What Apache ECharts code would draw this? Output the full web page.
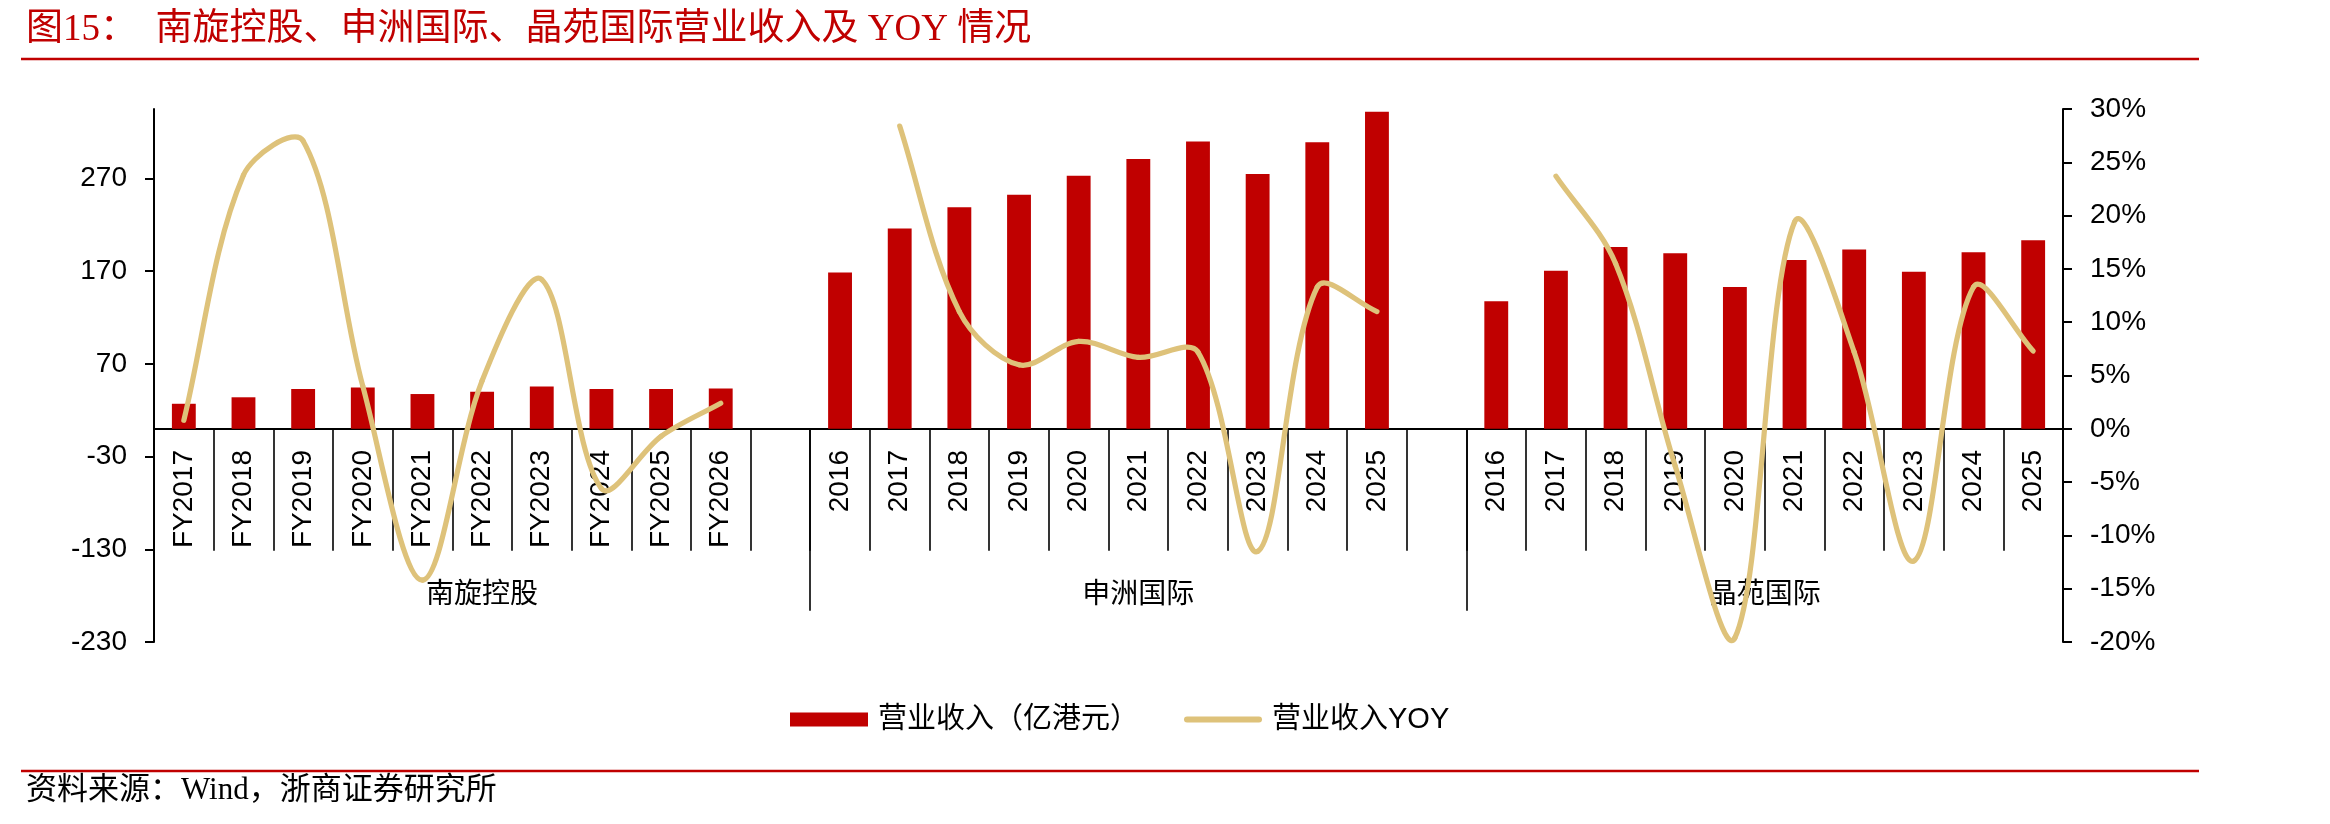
<!DOCTYPE html>
<html>
<head>
<meta charset="utf-8">
<script src="https://cdn.jsdelivr.net/npm/echarts@6/dist/echarts.min.js"></script>
<style>
  html, body { margin: 0; padding: 0; background: #fff; }
  #chart { width: 2330px; height: 824px; }
</style>
</head>
<body>
<div id="chart"></div>
<script>
// 南旋控股
const nanxuanYears = ['FY2017', 'FY2018', 'FY2019', 'FY2020', 'FY2021', 'FY2022', 'FY2023', 'FY2024', 'FY2025', 'FY2026'];
const nanxuanRevenue = [27, 34, 43, 44.5, 37.5, 40, 45.5, 43, 43, 43.5];
const nanxuanYoy = [0.8, 23.8, 27, 4, -14.2, 4.5, 14, -5.6, -0.7, 2.4];

// 申洲国际
const shenzhouYears = ['2016', '2017', '2018', '2019', '2020', '2021', '2022', '2023', '2024', '2025'];
const shenzhouRevenue = [168.5, 216, 239, 252.5, 273, 291, 310, 275, 309, 342];
const shenzhouYoy = [null, 28.4, 11, 6, 8.2, 6.7, 7.2, -11.5, 13.3, 11];

// 晶苑国际
const jingyuanYears = ['2016', '2017', '2018', '2019', '2020', '2021', '2022', '2023', '2024', '2025'];
const jingyuanRevenue = [137.5, 170.5, 196, 189.5, 153, 182, 193.5, 169.5, 190.5, 203.5];
const jingyuanYoy = [null, 23.7, 15.5, -3.5, -19.6, 19.4, 7.2, -12.4, 13.3, 7.3];

const groupNames = ['南旋控股', '申洲国际', '晶苑国际'];
const leftTicks = [-230, -130, -30, 70, 170, 270];

// 组与组之间空一格
const categories = [...nanxuanYears, '', ...shenzhouYears, '', ...jingyuanYears];
const revenue = [...nanxuanRevenue, null, ...shenzhouRevenue, null, ...jingyuanRevenue];
const yoy = [...nanxuanYoy, null, ...shenzhouYoy, null, ...jingyuanYoy];

// 组边界和组中心（以格为单位）
const groupSizes = [nanxuanYears.length + 1, shenzhouYears.length + 1, jingyuanYears.length];
const groupEdges = [];
const groupCenters = [];
let acc = 0;
groupSizes.forEach(function (n) {
  groupCenters.push(acc + n / 2);
  acc += n;
  groupEdges.push(acc);
});

const latin = '"Liberation Sans", Arial, "Noto Sans CJK SC"';
const cjk = '"Noto Sans CJK SC", "Liberation Sans"';
const red = '#C00000';
const gold = '#DEC27A';
const smoothK = 1 / 3;

function dist(a, b) {
  return Math.sqrt((a[0] - b[0]) * (a[0] - b[0]) + (a[1] - b[1]) * (a[1] - b[1]));
}

// 平滑线：按相邻段长度加权的 Catmull-Rom 控制点，不做截断（允许像 Excel 一样略微冲过数据点）
function renderYoySegment(params, api) {
  const i = params.dataIndex;
  const cur = yoy[i];
  const next = yoy[i + 1];
  if (cur == null || next == null) return;
  const prevIdx = yoy[i - 1] != null ? i - 1 : i;
  const afterIdx = yoy[i + 2] != null ? i + 2 : i + 1;
  const p0 = api.coord([prevIdx, yoy[prevIdx]]);
  const p1 = api.coord([i, cur]);
  const p2 = api.coord([i + 1, next]);
  const p3 = api.coord([afterIdx, yoy[afterIdx]]);
  const l01 = dist(p0, p1), l12 = dist(p1, p2), l23 = dist(p2, p3);
  const r1 = l12 / (l01 + l12 || 1);
  const r2 = l12 / (l12 + l23 || 1);
  return {
    type: 'bezierCurve',
    shape: {
      x1: p1[0], y1: p1[1],
      x2: p2[0], y2: p2[1],
      cpx1: p1[0] + (p2[0] - p0[0]) * smoothK * r1,
      cpy1: p1[1] + (p2[1] - p0[1]) * smoothK * r1,
      cpx2: p2[0] - (p3[0] - p1[0]) * smoothK * r2,
      cpy2: p2[1] - (p3[1] - p1[1]) * smoothK * r2
    },
    style: { stroke: gold, fill: null, lineWidth: 5.2, lineCap: 'round' }
  };
}

const myChart = echarts.init(document.getElementById('chart'));

const option = {
  animation: false,
  backgroundColor: '#fff',
  title: [
    {
      text: '图15：  南旋控股、申洲国际、晶苑国际营业收入及 YOY 情况',
      left: 21,
      top: 7,
      textStyle: { color: red, fontSize: 37, fontWeight: 'normal', fontFamily: '"Liberation Serif", "Noto Sans CJK SC"' }
    },
    {
      text: '资料来源：Wind，浙商证券研究所',
      left: 21,
      top: 770,
      textStyle: { color: '#000', fontSize: 31, fontWeight: 'normal', fontFamily: '"Liberation Serif", "Noto Sans CJK SC"' }
    }
  ],
  graphic: [
    { type: 'line', shape: { x1: 21, y1: 59, x2: 2199, y2: 59 }, style: { stroke: red, lineWidth: 2.5 } },
    { type: 'line', shape: { x1: 21, y1: 771, x2: 2199, y2: 771 }, style: { stroke: red, lineWidth: 2.5 } }
  ],
  legend: {
    left: 785,
    top: 700,
    itemWidth: 78,
    itemHeight: 14,
    itemGap: 45,
    textStyle: { fontSize: 29, color: '#000', fontFamily: '"Liberation Sans", "Noto Sans CJK SC"', padding: [0, 0, 0, 5] },
    data: [
      { name: '营业收入（亿港元）', icon: 'rect' },
      { name: '营业收入YOY', icon: 'path://M3,0h72a3,3 0 0 1 0,6h-72a3,3 0 0 1 0,-6z' }
    ]
  },
  grid: {
    left: 154,
    right: 267,
    top: 109,
    bottom: 182,
    containLabel: false,
    outerBoundsMode: 'none'
  },
  xAxis: [
    {
      type: 'category',
      data: categories,
      boundaryGap: true,
      axisLine: { onZero: true, lineStyle: { color: '#000', width: 2 } },
      axisTick: { show: true, interval: 0, length: 122, lineStyle: { color: '#000', width: 1.6 } },
      // 标签相对网格底边定位，所以用负的 margin 把它们挪到零轴下方
      axisLabel: { interval: 0, rotate: 90, margin: -192, fontSize: 28, color: '#000', fontFamily: latin },
      splitLine: { show: false }
    },
    {
      type: 'value',
      min: 0,
      max: acc,
      position: 'bottom',
      axisLine: { show: false, onZero: true, onZeroAxisIndex: 0 },
      axisTick: { show: true, customValues: groupEdges.slice(0, 2), length: 182, lineStyle: { color: '#000', width: 1.6 } },
      axisLabel: {
        customValues: groupCenters,
        margin: -64,
        fontSize: 28,
        color: '#000',
        fontFamily: cjk,
        formatter: function (v) {
          const i = groupCenters.indexOf(v);
          return i >= 0 ? groupNames[i] : '';
        }
      },
      splitLine: { show: false }
    }
  ],
  yAxis: [
    {
      type: 'value',
      min: -230,
      max: 345,
      position: 'left',
      axisLine: { show: true, onZero: false, lineStyle: { color: '#000', width: 2 } },
      axisTick: { show: true, length: 9, customValues: leftTicks, lineStyle: { color: '#000', width: 2 } },
      axisLabel: { customValues: leftTicks, margin: 27, fontSize: 28, color: '#000', fontFamily: latin },
      splitLine: { show: false }
    },
    {
      type: 'value',
      min: -20,
      max: 30,
      interval: 5,
      position: 'right',
      axisLine: { show: true, onZero: false, lineStyle: { color: '#000', width: 2 } },
      axisTick: { show: true, length: 9, lineStyle: { color: '#000', width: 2 } },
      axisLabel: { margin: 27, fontSize: 28, color: '#000', fontFamily: latin, formatter: '{value}%' },
      splitLine: { show: false }
    }
  ],
  series: [
    {
      name: '营业收入（亿港元）',
      type: 'bar',
      data: revenue,
      barWidth: '40%',
      itemStyle: { color: red }
    },
    {
      name: '营业收入YOY',
      type: 'custom',
      coordinateSystem: 'cartesian2d',
      xAxisIndex: 0,
      yAxisIndex: 1,
      data: yoy.map(function (v, i) { return [i, v]; }),
      encode: { x: 0, y: 1 },
      renderItem: renderYoySegment,
      itemStyle: { color: gold },
      z: 3
    }
  ]
};

try {
  myChart.setOption(option);
} catch (error) {
  console.log('error');
  console.log(error);
}
</script>
</body>
</html>
